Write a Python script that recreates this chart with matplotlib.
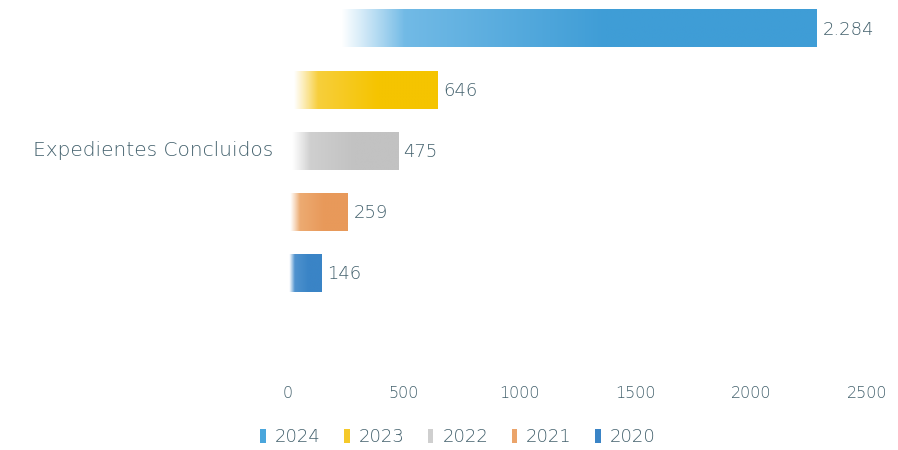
import numpy as np
import matplotlib
matplotlib.use("Agg")
import matplotlib.pyplot as plt
from matplotlib.colors import to_rgb
from matplotlib.patches import Patch

category = "Expedientes Concluidos"
years = ["2024", "2023", "2022", "2021", "2020"]
values = [2284, 646, 475, 259, 146]
value_labels = ["2.284", "646", "475", "259", "146"]
colors_dark = ["#3f9dd6", "#f5c400", "#c2c2c2", "#e8995a", "#3a84c6"]
colors_light = ["#8fcbef", "#f8d45a", "#d6d6d6", "#efb47e", "#5a9ad2"]
legend_colors = ["#4aa6dc", "#f5c92a", "#cfcfcf", "#eba46a", "#3a84c6"]
xticks = [0, 500, 1000, 1500, 2000, 2500]

plt.rcParams['font.family'] = ['DejaVu Sans']
plt.rcParams['font.weight'] = 'light'
txt = "#42606c"

fig = plt.figure(figsize=(8.98, 4.5), dpi=100)
ax = fig.add_axes([288/898, 1 - 372/450, (867-288)/898, 372/450])

n = len(years)
ypos = [n - 1 - i for i in range(n)]  # 2024 at top
h = 38/62
for y, v, cd, cl in zip(ypos, values, colors_dark, colors_light):
    N = 400
    t = np.linspace(0, 1, N)
    c1 = np.array(to_rgb(cl)); c2 = np.array(to_rgb(cd))
    w = np.clip(t / 0.6, 0, 1)
    rgb = c1[None, :] * (1 - w[:, None]) + c2[None, :] * w[:, None]
    if v > 1000:
        alpha = np.clip((t - 0.10) / 0.12, 0, 1)
    else:
        alpha = np.clip((t - 0.04) / 0.16, 0, 1)
    img = np.zeros((1, N, 4))
    img[0, :, :3] = rgb
    img[0, :, 3] = alpha
    ax.imshow(img, extent=[0, v, y - h/2, y + h/2], aspect='auto',
              interpolation='bilinear', zorder=2)

for y, v, lab in zip(ypos, values, value_labels):
    ax.annotate(lab, xy=(v, y), xytext=(4, -1), textcoords='offset points',
                va='center', ha='left', fontsize=13, color=txt)

ax.set_xlim(0, 2500)
ax.set_ylim(-1.62, 4.47)
ax.set_xticks(xticks)
ax.set_xticklabels([str(x) for x in xticks], fontsize=11.5, color=txt)
ax.tick_params(axis='x', length=0, pad=10)
ax.set_yticks([])
for s in ax.spines.values():
    s.set_visible(False)

ax.text(-0.026, (2 + 1.62) / (4.47 + 1.62), category,
        transform=ax.transAxes, ha='right', va='center', fontsize=14.5, color=txt)

handles = [Patch(facecolor=c, edgecolor='none') for c in legend_colors]
fig.legend(handles, years, loc='center', bbox_to_anchor=(458/898, 1 - 437/450),
           ncol=5, frameon=False, fontsize=13, labelcolor=txt,
           handlelength=0.3, handleheight=0.8, handletextpad=0.5, columnspacing=1.3)

fig.savefig("out.png", dpi=100, facecolor='white')
